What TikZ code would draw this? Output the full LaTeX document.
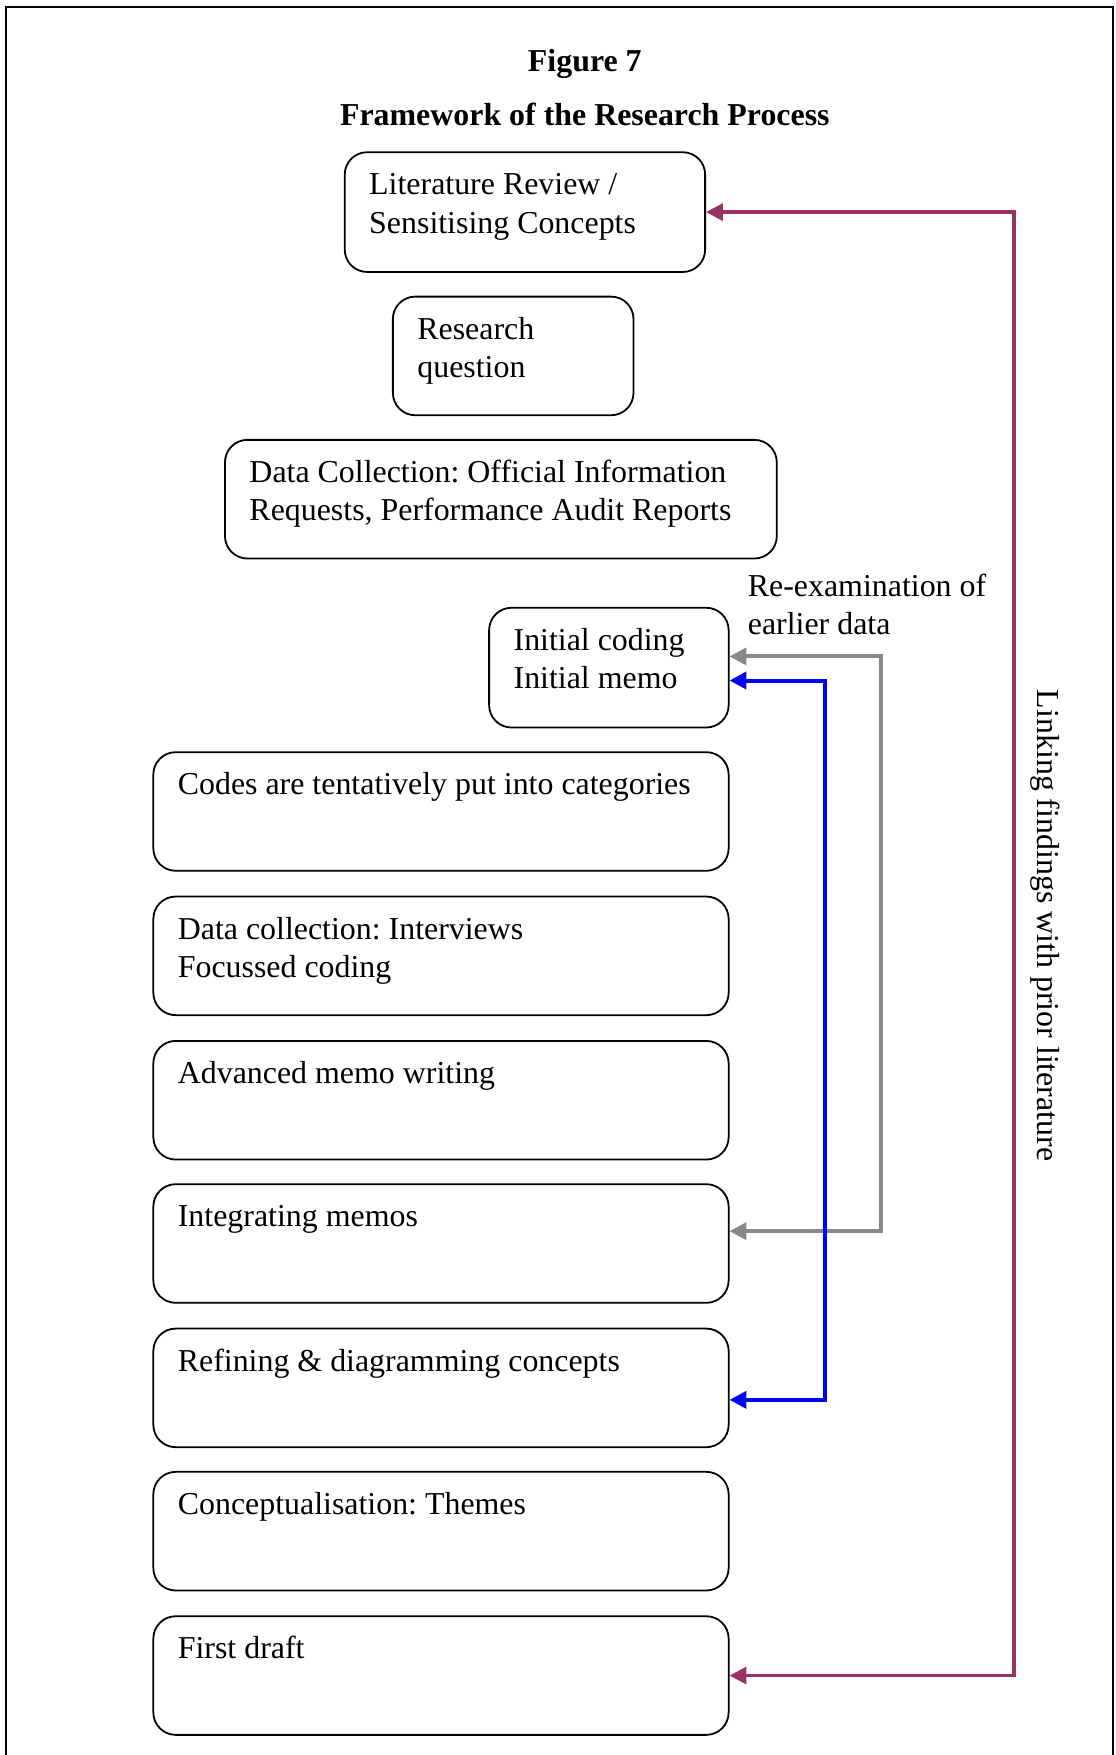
\documentclass[tikz,border=0pt]{standalone}
\usepackage{fontspec}
\setmainfont{Liberation Serif}
\frenchspacing
\usetikzlibrary{arrows.meta,fit}
\definecolor{loopmaroon}{HTML}{993366}
\definecolor{loopgray}{HTML}{888888}
\definecolor{loopblue}{HTML}{0000FF}
\begin{document}
\begin{tikzpicture}[x=1pt,y=-1pt,
  stagebox/.style={draw, line width=1.6pt, rounded corners=20pt, inner sep=0pt},
  stagetext/.style={anchor=base west, align=left, inner sep=0pt,
    font=\fontsize{28.5}{34}\selectfont},
  titletext/.style={anchor=base, inner sep=0pt,
    font=\fontsize{28.5}{34}\selectfont\bfseries},
  feedback/.style={line width=#1, {Triangle[length=15pt,width=15pt]}-{Triangle[length=15pt,width=15pt]}},
]
\useasboundingbox (0,0) rectangle (997,1568);

% outer frame, open at the bottom
\draw[line width=1.5pt] (5.5,1575) -- (5.5,6) -- (994.5,6) -- (994.5,1575);

% headings
\node[titletext] (fig) at (522.5,63.5) {Figure 7};
\node[titletext] (ftitle) at (522.5,112.5) {Framework of the Research Process};

% stages (text anchored on the baseline of its last line)
\node[stagebox, fit={(308,136) (630,243)}] (lit) {};
\node[stagetext] (lit-t) at ([xshift=22.5pt,yshift=-73pt]lit.north west) {Literature Review /\\Sensitising Concepts};

\node[stagebox, fit={(351,265) (566,371)}] (rq) {};
\node[stagetext] (rq-t) at ([xshift=22.5pt,yshift=-73pt]rq.north west) {Research\\question};

\node[stagebox, fit={(201,393) (694,499)}] (dc) {};
\node[stagetext] (dc-t) at ([xshift=22.5pt,yshift=-73pt]dc.north west) {Data Collection: Official Information\\Requests, Performance Audit Reports};

\node[stagebox, fit={(437,543) (651,650)}] (ic) {};
\node[stagetext] (ic-t) at ([xshift=22.5pt,yshift=-73pt]ic.north west) {Initial coding\\Initial memo};

\node[stagebox, fit={(137,672) (651,778)}] (codes) {};
\node[stagetext] (codes-t) at ([xshift=22.5pt,yshift=-39pt]codes.north west) {Codes are tentatively put into categories};

\node[stagebox, fit={(137,801) (651,907)}] (interv) {};
\node[stagetext] (interv-t) at ([xshift=22.5pt,yshift=-73pt]interv.north west) {Data collection: Interviews\\Focussed coding};

\node[stagebox, fit={(137,930) (651,1036)}] (adv) {};
\node[stagetext] (adv-t) at ([xshift=22.5pt,yshift=-39pt]adv.north west) {Advanced memo writing};

\node[stagebox, fit={(137,1058) (651,1164)}] (integ) {};
\node[stagetext] (integ-t) at ([xshift=22.5pt,yshift=-39pt]integ.north west) {Integrating memos};

\node[stagebox, fit={(137,1187) (651,1293)}] (refine) {};
\node[stagetext] (refine-t) at ([xshift=22.5pt,yshift=-39pt]refine.north west) {Refining \& diagramming concepts};

\node[stagebox, fit={(137,1315) (651,1421)}] (concept) {};
\node[stagetext] (concept-t) at ([xshift=22.5pt,yshift=-39pt]concept.north west) {Conceptualisation: Themes};

\node[stagebox, fit={(137,1444) (651,1550)}] (draft) {};
\node[stagetext] (draft-t) at ([xshift=22.5pt,yshift=-39pt]draft.north west) {First draft};

% feedback loops
\coordinate (grayx) at (787,0);
\coordinate (bluex) at (737,0);
\coordinate (maroonx) at (906,0);

\draw[feedback=3.6pt, draw=loopgray]
  ([yshift=10pt]ic.east) -- ([yshift=10pt]ic.east -| grayx)
  -- ([yshift=11pt]integ.east -| grayx) -- ([yshift=11pt]integ.east);

\draw[feedback=3.6pt, draw=loopblue]
  ([yshift=-11.5pt]ic.east) -- ([yshift=-11.5pt]ic.east -| bluex)
  -- ([yshift=-10.7pt]refine.east -| bluex) -- ([yshift=-10.7pt]refine.east);

\draw[feedback=3.2pt, draw=loopmaroon]
  (draft.east) -- (draft.east -| maroonx)
  -- (lit.east -| maroonx) -- (lit.east);

% loop labels
\node[stagetext] (reexam) at (668,567) {Re-examination of\\earlier data};
\node[inner sep=0pt, rotate=-90, font=\fontsize{28.5}{34}\selectfont] (linking) at (934,827) {Linking findings with prior literature};
\end{tikzpicture}
\end{document}
